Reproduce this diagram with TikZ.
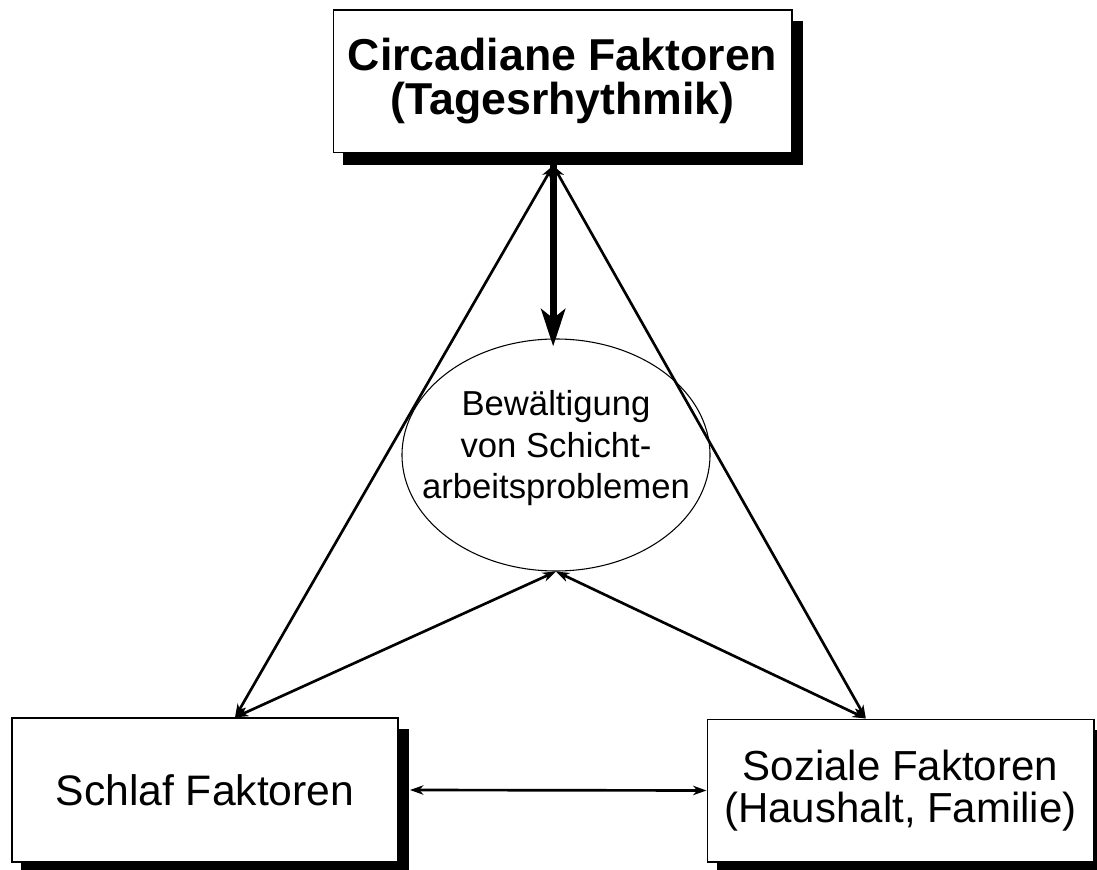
\documentclass[tikz,border=0pt]{standalone}
\usepackage{fontspec}
\setmainfont{Liberation Sans}
\usepackage{tikz}
\usetikzlibrary{arrows.meta,positioning,shapes.geometric,shadows}

\tikzset{
  faktor/.style={draw, line width=1pt, fill=white, align=center, inner sep=0pt,
    general shadow={fill=black, draw=black, shadow xshift=7.5pt, shadow yshift=-8.5pt}},
  link/.style={line width=2pt,
    {Stealth[length=10pt,width=7pt,inset=3pt]}-{Stealth[length=10pt,width=7pt,inset=3pt]}},
}

\begin{document}
\begin{tikzpicture}[x=0.75pt,y=0.75pt]
\useasboundingbox (0,0) rectangle (1097,869);
\node[faktor, font=\fontsize{33.5}{33}\selectfont\bfseries,
  minimum width=344pt, minimum height=107pt] (circ) at (562.5,787.5)
  {Circadiane Faktoren\\(Tagesrhythmik)};
\node[faktor, font=\fontsize{32}{32}\selectfont,
  minimum width=289.5pt, minimum height=108pt] (schlaf) at (205,79)
  {Schlaf Faktoren};
\node[faktor, font=\fontsize{31.5}{31.5}\selectfont,
  minimum width=290pt, minimum height=107pt] (sozial) at (900.5,78.5)
  {Soziale Faktoren\\(Haushalt, Familie)};
\node[draw, ellipse, line width=0.8pt, inner sep=0pt,
  minimum width=231pt, minimum height=174pt] (bew) at (556,414) {};
\node[align=center, inner sep=0pt, font=\fontsize{26}{31}\selectfont]
  (bewtext) at ([yshift=5pt]bew.center) {Bewältigung\\von Schicht-\\arbeitsproblemen};

\coordinate (apex) at ([xshift=-7pt,yshift=-9pt]circ.south);
\coordinate (sl) at ([xshift=22.5pt]schlaf.north);
\coordinate (sz) at ([xshift=-26pt]sozial.north);
\coordinate (sh) at ([xshift=8.5pt]schlaf.east);

\draw[link] (apex) -- (sl);
\draw[link] (apex) -- (sz);
\draw[link] (sl) -- (bew.south);
\draw[link] (sz) -- (bew.south);
\draw[link] (sh) -- (sozial.west);
\draw[line width=5pt, -{Stealth[length=28pt,width=18pt,inset=7pt]}]
  (apex) -- ([yshift=-6pt]apex |- bew.north);
\end{tikzpicture}
\end{document}
